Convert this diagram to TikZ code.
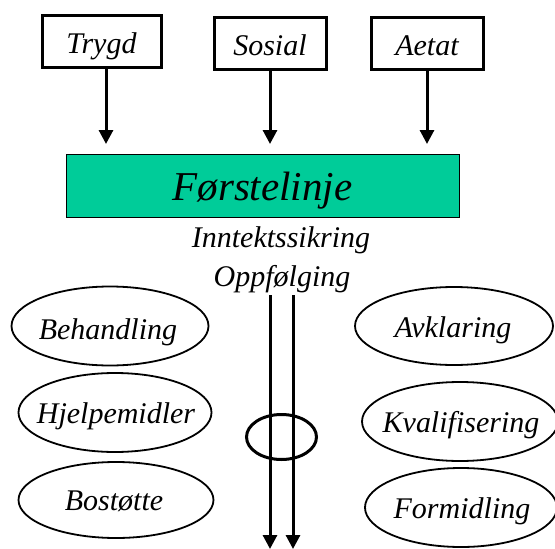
\documentclass[tikz,border=0pt]{standalone}
\usepackage{fontspec}
\setmainfont{Liberation Serif}
\usetikzlibrary{shapes.geometric,arrows.meta}
\definecolor{teal1}{RGB}{0,204,153}
\tikzset{
  srcbox/.style={draw,line width=3pt,inner sep=0pt,minimum height=52pt,
    font=\fontsize{30}{36}\selectfont\itshape,text height=25pt,text depth=0pt},
  oval/.style={draw,ellipse,line width=1.8pt,inner sep=0pt,minimum height=79pt},
  lbl/.style={font=\fontsize{30}{36}\selectfont\itshape,inner sep=0pt,anchor=base},
  arr/.style={line width=3pt,-{Triangle[width=14pt,length=14pt]}},
}
\begin{document}
\begin{tikzpicture}[x=1pt,y=-1pt]
\useasboundingbox (0,0) rectangle (555,549);
% source boxes
\node[srcbox,minimum width=119pt] (trygd) at (101.5,41) {Trygd};
\node[srcbox,minimum width=112pt] (sosial) at (270,43) {Sosial};
\node[srcbox,minimum width=112pt] (aetat) at (427,43) {Aetat};
% green box
\node[draw,fill=teal1,line width=1pt,minimum width=393pt,minimum height=63pt,inner sep=0pt,
  font=\fontsize{41}{48}\selectfont\itshape,text height=29pt,text depth=0pt] (first) at (262.5,185.5) {Førstelinje};
\coordinate (tipline) at (0,144);
\draw[arr] (trygd.south -| 106,0) -- (106,144);
\draw[arr] (sosial.south) -- (sosial.south |- tipline);
\draw[arr] (aetat.south) -- (aetat.south |- tipline);
% labels below
\node[lbl] (inn) at (281,247) {Inntektssikring};
\node[lbl] (opp) at (282,286) {Oppfølging};
% ellipses left
\node[oval,minimum width=197pt] (beh) at (110,326) {};
\node[lbl] (behT) at (108,339) {Behandling};
\node[oval,minimum width=193pt] (hjelp) at (115,412.5) {};
\node[lbl] (hjelpT) at (116,423) {Hjelpemidler};
\node[oval,minimum width=195pt,minimum height=76pt] (bost) at (116,500) {};
\node[lbl] (bostT) at (114,510) {Bostøtte};
% ellipses right
\node[oval,minimum width=198pt,minimum height=78pt] (avk) at (454,326) {};
\node[lbl] (avkT) at (453,337) {Avklaring};
\node[oval,minimum width=196pt] (kval) at (460,421.5) {};
\node[lbl] (kvalT) at (461,432) {Kvalifisering};
\node[oval,minimum width=192pt] (form) at (461,507.5) {};
\node[lbl] (formT) at (462,518) {Formidling};
% ring and downward arrows
\node[draw,ellipse,line width=3pt,minimum width=70pt,minimum height=45pt,inner sep=0pt] (ring) at (281.5,437) {};
\coordinate (s1) at (270,295);
\coordinate (s2) at (293,295);
\coordinate (e1) at (270,549);
\coordinate (e2) at (293,549);
\draw[arr] (s1) -- (e1);
\draw[arr] (s2) -- (e2);
\end{tikzpicture}
\end{document}
